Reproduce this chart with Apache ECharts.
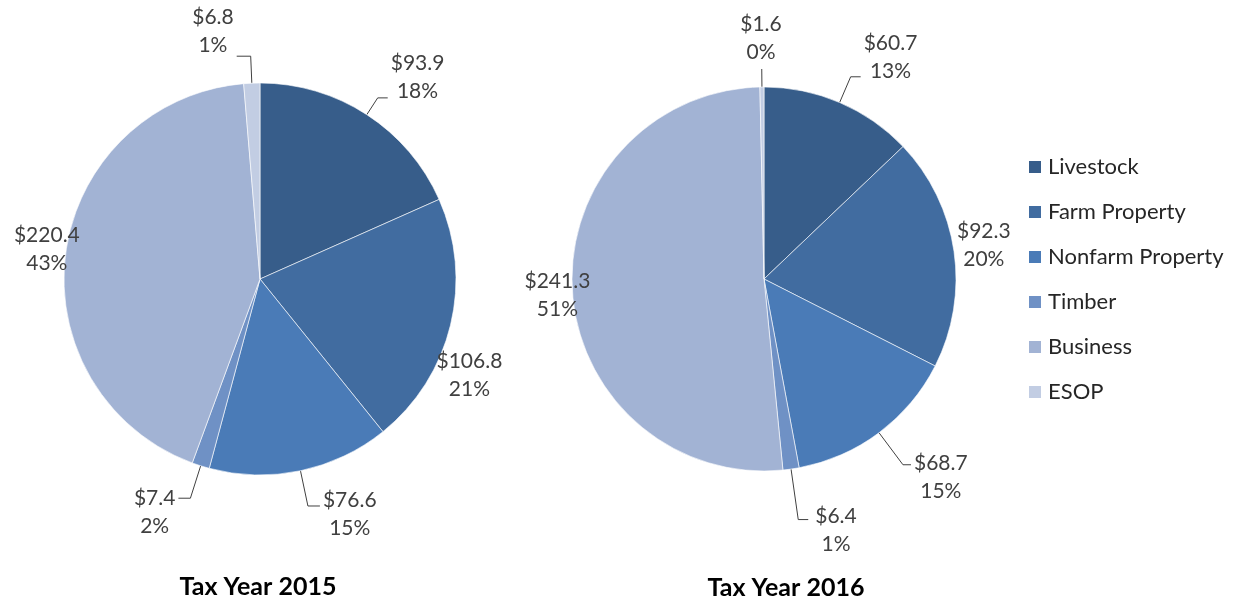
<!DOCTYPE html>
<html>
<head>
<meta charset="utf-8">
<script src="https://cdn.jsdelivr.net/npm/echarts@6/dist/echarts.min.js"></script>
<style>
  html, body { margin: 0; padding: 0; background: #fff; }
  #main { width: 1243px; height: 605px; }
</style>
</head>
<body>
<div id="main"></div>
<script>
// categories (clockwise from 12 o'clock)
const categories = ['Livestock', 'Farm Property', 'Nonfarm Property', 'Timber', 'Business', 'ESOP'];
// values, $ millions
const values2015 = [93.9, 106.8, 76.6, 7.4, 220.4, 6.8];
const values2016 = [60.7, 92.3, 68.7, 6.4, 241.3, 1.6];
const titles = ['Tax Year 2015', 'Tax Year 2016'];

const colors = ['#375d8a', '#416ca0', '#4a7bb7', '#6f91c5', '#a2b3d4', '#c2cde3'];
const font = 'Lato, "Open Sans", sans-serif';

// leader line [show, length, length2] and label nudge [dx, dy], per slice
const leaders = [
  [[true, 20, 10], [false, 0, 0], [true, 36, 12], [true, 34, 12], [false, 0, 0], [true, 27, 14]],
  [[true, 28, 10], [false, 0, 0], [true, 40, 8], [true, 51, 10], [false, 0, 0], [true, 18, 0]]
];
const nudges = [
  [[0, -21], [-17, 50], [0, 8], [0, 14], [17, -3], [0, -25]],
  [[0, -20], [0, -6], [0, 12], [4, 11], [21, 5], [23, -31]]
];

function toData(vals, s) {
  return categories.map((name, i) => ({
    name: name,
    value: vals[i],
    labelLine: { show: leaders[s][i][0], length: leaders[s][i][1], length2: leaders[s][i][2] }
  }));
}

function labelFmt(p) {
  return '{v|$' + p.value.toFixed(1) + '}\n{v|' + p.percent + '%}';
}

function pieSeries(vals, s, center, radius) {
  return {
    type: 'pie',
    center: center,
    radius: radius,
    startAngle: 90,
    clockwise: true,
    percentPrecision: 0,
    avoidLabelOverlap: false,
    data: toData(vals, s),
    itemStyle: { borderColor: '#fff', borderWidth: 0.6 },
    label: {
      position: 'outside',
      formatter: labelFmt,
      color: '#404040',
      fontFamily: font,
      fontSize: 21,
      lineHeight: 28,
      distanceToLabelLine: 3,
      rich: {
        v: { align: 'center', color: '#404040', fontFamily: font, fontSize: 21, lineHeight: 28 }
      }
    },
    labelLine: {
      lineStyle: { color: '#404040', width: 1 }
    },
    labelLayout: function (p) {
      const n = nudges[p.seriesIndex][p.dataIndex];
      return { dx: n[0], dy: n[1] };
    },
    emphasis: { disabled: true }
  };
}

const chart = echarts.init(document.getElementById('main'));
chart.setOption({
  color: colors,
  animation: false,
  title: [
    { text: titles[0], left: 253, top: 569, textAlign: 'center',
      textStyle: { fontFamily: font, fontSize: 25, fontWeight: 'bold', color: '#000' } },
    { text: titles[1], left: 781, top: 570, textAlign: 'center',
      textStyle: { fontFamily: font, fontSize: 25, fontWeight: 'bold', color: '#000' } }
  ],
  legend: {
    orient: 'vertical',
    left: 1027,
    top: 156,
    padding: 0,
    itemWidth: 14,
    itemHeight: 14,
    itemGap: 23,
    icon: 'rect',
    data: categories,
    textStyle: { fontFamily: font, fontSize: 22, color: '#262626', lineHeight: 22, padding: [0, 0, 0, 1] }
  },
  series: [
    pieSeries(values2015, 0, [260, 279], 196),
    pieSeries(values2016, 1, [764, 279], 192)
  ]
});
</script>
</body>
</html>
